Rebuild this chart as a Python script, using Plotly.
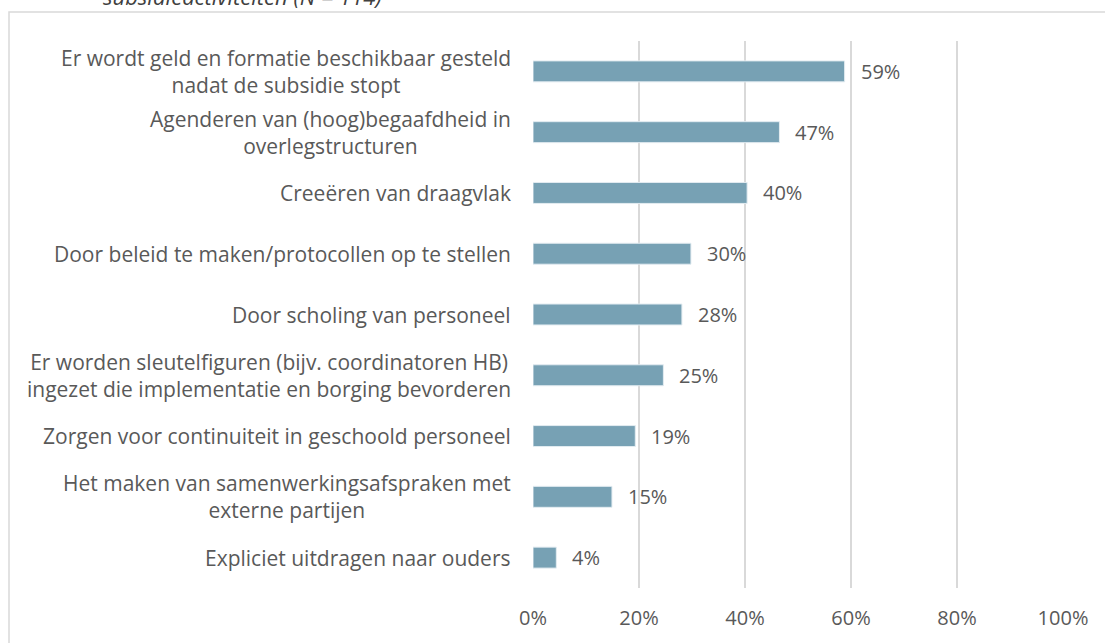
import plotly.graph_objects as go

categories = [
    "Er wordt geld en formatie beschikbaar gesteld<br>nadat de subsidie stopt",
    "Agenderen van (hoog)begaafdheid in<br>overlegstructuren",
    "Creeëren van draagvlak",
    "Door beleid te maken/protocollen op te stellen",
    "Door scholing van personeel",
    "Er worden sleutelfiguren (bijv. coordinatoren HB)<br>ingezet die implementatie en borging bevorderen",
    "Zorgen voor continuiteit in geschoold personeel",
    "Het maken van samenwerkingsafspraken met<br>externe partijen",
    "Expliciet uitdragen naar ouders",
]
values = [0.588, 0.465, 0.404, 0.298, 0.281, 0.246, 0.193, 0.149, 0.044]
value_labels = ["59%", "47%", "40%", "30%", "28%", "25%", "19%", "15%", "4%"]
tick_vals = [0, 0.2, 0.4, 0.6, 0.8, 1.0]
tick_text = ["0%", "20%", "40%", "60%", "80%", "100%"]
title_text = "subsidieactiviteiten (N = 114)"

W, H = 1105, 643
# target plot area in window pixels: x 533..1063, y 41..588
L = 533
R = W - 1063
T = 41
B = H - 588
PW, PH = W - L - R, H - T - B

def px_x(px):
    return (px - L) / PW

def px_y(py):
    return 1 - (py - T) / PH

FONT = "Open Sans"
TXT = "#595959"
FS = 21

fig = go.Figure()
fig.add_trace(go.Bar(
    x=values, y=categories, orientation="h",
    marker=dict(color="#77A1B4", line=dict(color="#E3ECF1", width=1)),
    width=0.345, hoverinfo="skip",
))

annotations = []
for c, v, lab in zip(categories, values, value_labels):
    annotations.append(dict(x=v, y=c, xref="x", yref="y", text=lab, showarrow=False,
                            xanchor="left", xshift=14, font=dict(family=FONT, size=20, color=TXT)))
    annotations.append(dict(x=0, y=c, xref="paper", yref="y", text=c, showarrow=False,
                            xanchor="right", xshift=-20, align="center",
                            font=dict(family=FONT, size=FS, color=TXT)))
annotations.append(dict(x=px_x(101), y=px_y(-4.5), xref="paper", yref="paper", text="<i>" + title_text + "</i>",
                        showarrow=False, xanchor="left", yanchor="middle",
                        font=dict(family=FONT, size=22, color="#404040")))

fig.update_layout(
    width=W, height=H,
    margin=dict(l=L, r=R, t=T, b=B, autoexpand=False),
    paper_bgcolor="white", plot_bgcolor="white",
    showlegend=False,
    bargap=0.65,
    annotations=annotations,
    xaxis=dict(range=[0, 1], tickvals=tick_vals, ticktext=tick_text,
               showgrid=True, gridcolor="#D9D9D9", gridwidth=1.5,
               zeroline=False, showline=False, ticks="", ticklabelstandoff=16,
               tickfont=dict(family=FONT, size=20, color=TXT)),
    yaxis=dict(autorange="reversed", showticklabels=False, showgrid=False,
               zeroline=False, showline=False, ticks=""),
    shapes=[dict(type="rect", xref="paper", yref="paper",
                 x0=px_x(9), x1=px_x(1200), y0=px_y(12), y1=px_y(800),
                 line=dict(color="#D9D9D9", width=1.5), fillcolor="rgba(0,0,0,0)", layer="below")],
)

fig.write_html("out.html", config={"displayModeBar": False},
               post_script="document.body.style.margin='0px';document.body.style.overflow='hidden';")
